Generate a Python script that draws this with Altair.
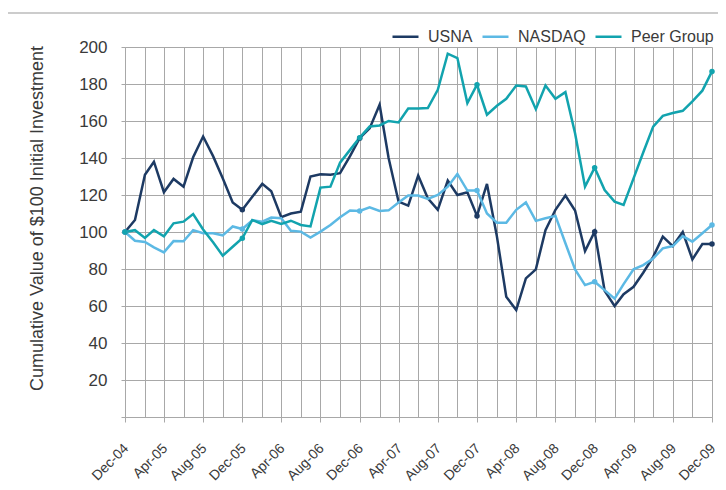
import altair as alt
import pandas as pd

# ---- data (monthly, Dec-04 .. Dec-09) ----
start_month = "2004-12-01"
n_months = 61

usna = [100, 106.5, 130.9, 138, 121.5, 128.7, 124.5, 140.4, 151.6, 141,
        129, 116, 112, 119, 126, 122, 108, 110, 111, 130,
        131.2, 131, 131.8, 141, 150.7, 156, 168.8, 140, 116.4, 114.3,
        130.5, 118.2, 112, 127.8, 120, 121.5, 108.7, 126, 97.5, 65,
        57.8, 74.9, 79.8, 101, 112, 119.7, 111.6, 89.7, 100.2, 68.2,
        60, 66.4, 70.4, 78, 86.6, 97.5, 92.4, 100, 85.2, 93.5, 93.5]

nasdaq = [100, 95.3, 94.6, 91.7, 89, 95.1, 95, 101, 99.3, 99.3,
          98.2, 103, 101.6, 106.3, 105.6, 107.8, 107.4, 100.7, 100.2, 97,
          100.2, 103.8, 108, 111.6, 111.4, 113.4, 111.4, 111.7, 116, 119.7,
          119.7, 117.9, 120, 124.5, 131.4, 122.4, 122.4, 110, 105, 105,
          112, 116, 106, 107.4, 108.7, 93.9, 79.8, 71.3, 73.1, 68.6,
          64, 71.8, 79.8, 82.1, 85.7, 91.2, 92.4, 97.8, 94.8, 99.3, 103.8]

peer = [100, 101, 96.8, 101, 97.7, 104.7, 105.6, 109.7, 101.4, 94.4,
        87.2, 92, 96.6, 106.5, 104.3, 106.1, 104.3, 106.1, 103.8, 103,
        124, 124.5, 137.5, 144.4, 151, 157, 157.6, 160, 159.2, 166.8,
        166.8, 167, 176.9, 196.4, 194, 169.7, 179.6, 163.4, 168.2, 172,
        179.2, 178.7, 166.4, 179.2, 172, 175.6, 153.4, 124.5, 134.8, 122.7,
        116.4, 114.6, 129, 143, 157, 162.8, 164.3, 165.5, 170.6, 176.4, 186.8]

series_names = ["USNA", "NASDAQ", "Peer Group"]
series_colors = ["#1d3a63", "#5cb9e4", "#12a3ae"]
y_title = "Cumulative Value of $100 Initial Investment"
y_ticks = [0, 20, 40, 60, 80, 100, 120, 140, 160, 180, 200]

# ---- build the long table ----
dates = pd.date_range(start_month, periods=n_months, freq="MS")
date_str = [d.strftime("%Y-%m-%d") for d in dates]
rows = []
for name, vals in zip(series_names, [usna, nasdaq, peer]):
    for d, v in zip(date_str, vals):
        rows.append({"date": d, "series": name, "value": v})
df = pd.DataFrame(rows)

grid_dates = pd.date_range(start_month, periods=31, freq="2MS")
grid_ms = [int(pd.Timestamp(d).tz_localize("UTC").timestamp() * 1000) for d in grid_dates]

FONT = "Liberation Sans"
TEXT = "#3a3a3a"
GRID = "#a8a8a8"

label_test = "utcmonth(datum.value) % 4 == 3"

x_enc = alt.X(
    "date:T",
    scale=alt.Scale(type="utc"),
    axis=alt.Axis(
        values=grid_ms,
        format="%b-%y",
        formatType="utc",
        labelExpr=f"{label_test} ? utcFormat(datum.value, '%b-%y') : ''",
        labelAngle=-45,
        labelAlign="right",
        labelBaseline="middle",
        labelFont=FONT,
        labelFontSize=14,
        labelColor=TEXT,
        labelPadding=24,
        labelOffset=1,
        labelOverlap=False,
        labelFlush=False,
        grid=True,
        gridColor=GRID,
        gridWidth=1,
        tickSize=5,
        tickColor=GRID,
        tickOpacity={"condition": {"test": label_test, "value": 1}, "value": 0},
        domainColor=GRID,
        title=None,
    ),
)
y_enc = alt.Y(
    "value:Q",
    scale=alt.Scale(domain=[0, 200], nice=False),
    axis=alt.Axis(
        values=y_ticks,
        labelExpr="datum.value == 0 ? '' : datum.label",
        labelFont=FONT,
        labelFontSize=17,
        labelColor=TEXT,
        labelPadding=14,
        labelOverlap=False,
        grid=True,
        gridColor=GRID,
        gridWidth=1,
        tickSize=4,
        tickColor=GRID,
        domainColor=GRID,
        title=y_title,
        titleFont=FONT,
        titleFontSize=18,
        titleFontWeight="normal",
        titleColor=TEXT,
        titlePadding=32,
        titleY=171,
    ),
)

color_enc = alt.Color(
    "series:N",
    scale=alt.Scale(domain=series_names, range=series_colors),
    legend=alt.Legend(
        orient="none",
        legendX=266,
        legendY=-25,
        direction="horizontal",
        title=None,
        symbolType="stroke",
        symbolSize=676,
        symbolStrokeWidth=2.5,
        labelFont=FONT,
        labelFontSize=16,
        labelColor=TEXT,
        labelOffset=8,
        columnPadding=4,
        labelLimit=300,
    ),
)

base = alt.Chart(df).encode(x=x_enc, y=y_enc, color=color_enc)
lines = base.mark_line(strokeWidth=2.5)
points = base.mark_point(filled=True, size=30, opacity=1).transform_filter(
    "utcmonth(toDate(datum.date)) == 11"
)

frame_df = pd.DataFrame({"k": [0]})
frame_top = alt.Chart(frame_df).mark_rule(color="#cccccc", strokeWidth=2).encode(
    x=alt.value(-119), x2=alt.value(640), y=alt.value(-34)
)
frame_left = alt.Chart(frame_df).mark_rule(color="#cccccc", strokeWidth=2).encode(
    x=alt.value(-119), y=alt.value(-34), y2=alt.value(480)
)

chart = (
    alt.layer(lines, points, frame_top, frame_left)
    .properties(
        width=587,
        height=370,
        autosize=alt.AutoSizeParams(type="none"),
        padding={"left": 117, "top": 39, "right": 6, "bottom": 70},
        background="white",
    )
    .configure_view(stroke=None)
)

chart.save("out.html", embed_options={"renderer": "svg", "actions": False})
